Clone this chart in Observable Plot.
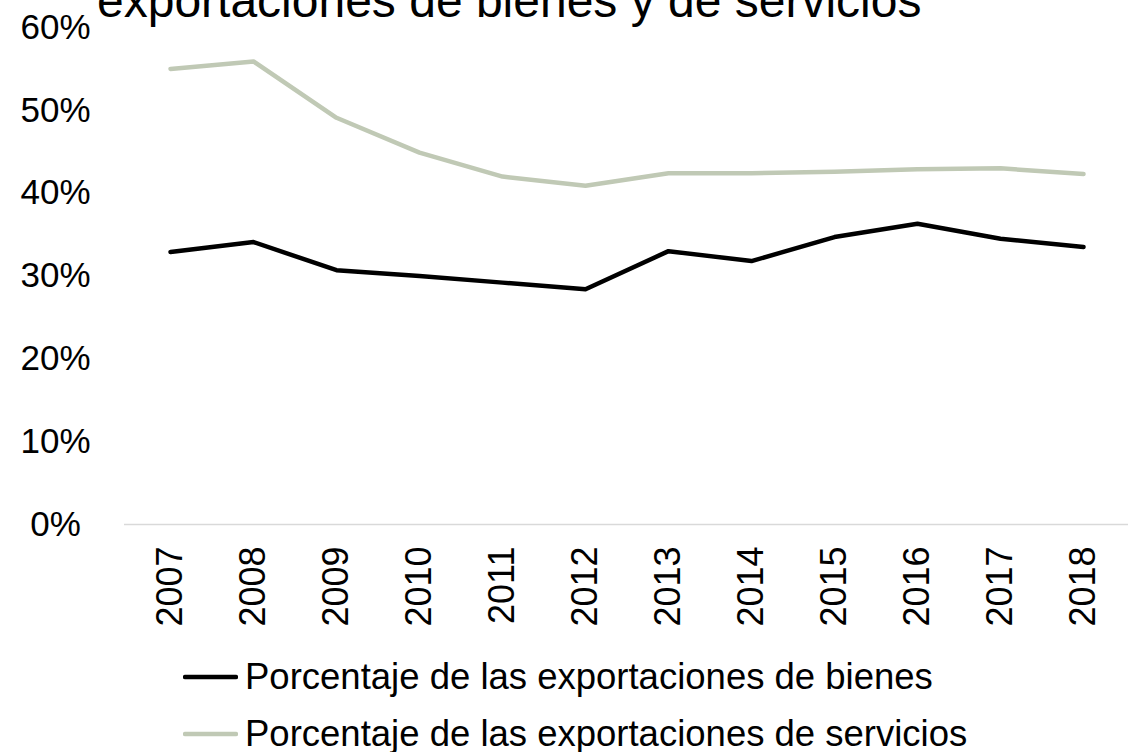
<!DOCTYPE html>
<html>
<head>
<meta charset="utf-8">
<script src="https://cdn.jsdelivr.net/npm/d3@7"></script>
<script src="https://cdn.jsdelivr.net/npm/@observablehq/plot@0.6"></script>
<style>
  html, body { margin: 0; padding: 0; background: #fff; overflow: hidden; }
  body { width: 1142px; height: 752px; position: relative; font-family: "Liberation Sans", Arial, sans-serif; color: #000; }
  #title { position: absolute; left: 97px; top: -23px; font-size: 48px; line-height: 48px; white-space: nowrap; z-index: 2; }
  #chart { position: absolute; left: 0; top: 0; }
  #legend { position: absolute; left: 183px; top: 648px; font-size: 36.5px; }
  .row { display: flex; align-items: center; height: 57px; white-space: nowrap; }
  .row svg { margin-right: 7px; }
</style>
</head>
<body>
<div id="title">exportaciones de bienes y de servicios</div>
<div id="chart"></div>
<div id="legend"></div>
<script>
const years = ["2007","2008","2009","2010","2011","2012","2013","2014","2015","2016","2017","2018"];
const goods = [0.329, 0.341, 0.307, 0.300, 0.292, 0.284, 0.330, 0.318, 0.347, 0.363, 0.345, 0.335];
const services = [0.550, 0.559, 0.491, 0.449, 0.420, 0.409, 0.424, 0.424, 0.426, 0.429, 0.430, 0.423];
const seriesNames = ["Porcentaje de las exportaciones de bienes", "Porcentaje de las exportaciones de servicios"];
const seriesColors = ["#000000", "#c0c9b5"];
const yTicks = [0, 0.1, 0.2, 0.3, 0.4, 0.5, 0.6];

const rows = [];
years.forEach((y, i) => {
  rows.push({year: y, value: goods[i], series: seriesNames[0]});
});
years.forEach((y, i) => {
  rows.push({year: y, value: services[i], series: seriesNames[1]});
});

const chart = Plot.plot({
  width: 1142,
  height: 640,
  marginTop: 27,
  marginBottom: 116,
  marginLeft: 124,
  marginRight: 14,
  style: {fontFamily: '"Liberation Sans", Arial, sans-serif', color: "#000", background: "transparent"},
  x: {type: "point", domain: years, padding: 0.5, align: 0.5},
  y: {domain: [0, 0.6]},
  color: {domain: seriesNames, range: seriesColors},
  marks: [
    Plot.ruleY([0], {stroke: "#d9d9d9", strokeWidth: 1.5}),
    Plot.axisY({ticks: yTicks, tickFormat: d3.format(".0%"), tickSize: 0, tickPadding: 69, textAnchor: "middle", fontSize: 35, label: null}),
    Plot.axisX({tickSize: 0, tickRotate: -90, tickPadding: 22, fontSize: 36, label: null}),
    Plot.line(rows, {x: "year", y: "value", z: "series", stroke: "series", strokeWidth: 4.5, strokeLinecap: "round", strokeLinejoin: "round"})
  ]
});
document.getElementById("chart").appendChild(chart);

const legend = document.getElementById("legend");
seriesNames.forEach((name, i) => {
  const row = document.createElement("div");
  row.className = "row";
  row.innerHTML = `<svg width="55" height="10"><line x1="2" y1="5" x2="53" y2="5" stroke="${seriesColors[i]}" stroke-width="4.5" stroke-linecap="round"/></svg><span>${name}</span>`;
  legend.appendChild(row);
});
</script>
</body>
</html>
